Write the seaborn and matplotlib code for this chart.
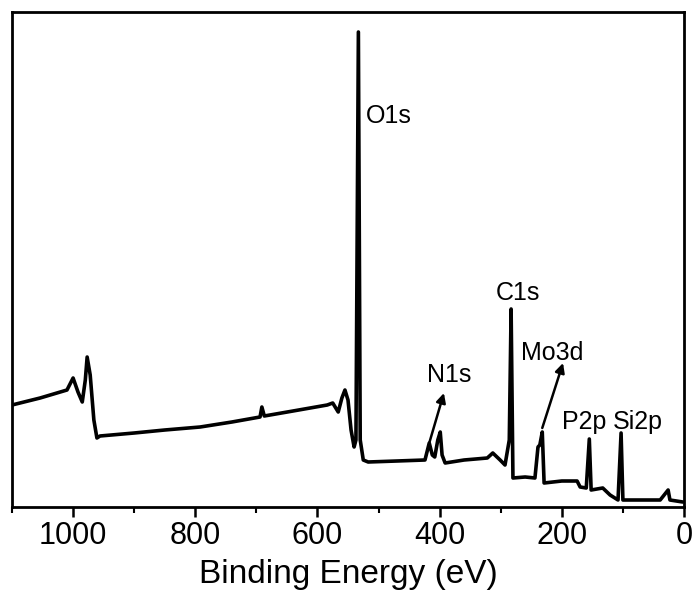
import numpy as np
import pandas as pd
import matplotlib
matplotlib.use('Agg')
import matplotlib.pyplot as plt
import seaborn as sns
from matplotlib.ticker import MultipleLocator

# XPS survey spectrum (intensity in arbitrary units)
energy = [1100, 1054, 1010, 1000, 992, 985, 980, 977, 972, 966, 961, 956,
          900, 850, 792, 740, 694, 691, 687, 640, 584, 575, 566, 560, 555,
          550, 545, 540, 537, 533, 530, 525, 517, 470, 424, 417, 412, 408,
          403, 399, 396, 391, 360, 322, 313, 301, 293, 286, 283, 280, 260,
          244, 239, 236, 232, 229, 200, 175, 170, 160, 155, 152, 133, 121,
          108, 103, 100, 70, 39, 26, 23, 2]
intensity = [102, 109, 117, 129, 115, 105, 127, 150, 132, 87, 69, 71,
             74, 77, 80, 85, 90, 100, 91, 96, 102, 104, 95, 109, 117,
             107, 77, 60, 67, 475, 67, 47, 45, 46, 47, 64, 52, 50,
             67, 75, 52, 44, 47, 49, 54, 47, 42, 67, 198, 29, 30,
             29, 60, 62, 75, 24, 26, 26, 20, 19, 68, 17, 19, 12,
             7, 74, 7, 7, 7, 17, 7, 5]

# peak labels: text, x (eV), y (baseline)
peak_names = ['O1s', 'C1s', 'Mo3d', 'N1s', 'P2p', 'Si2p']
label_x = [484, 272, 216, 385, 164, 75]
label_y = [384, 207, 147, 125, 78, 78]

# arrows: (tail -> head)
arrow_tail = [(417, 64), (232, 79)]
arrow_head = [(393, 114), (198, 144)]

sns.set_style('ticks')
plt.rcParams['font.family'] = ['Liberation Sans', 'DejaVu Sans']
plt.rcParams['text.color'] = 'black'
plt.rcParams['xtick.color'] = 'black'
plt.rcParams['axes.labelcolor'] = 'black'
plt.rcParams['axes.edgecolor'] = 'black'

df = pd.DataFrame({'Binding Energy (eV)': energy, 'Intensity': intensity})

fig = plt.figure(figsize=(6.94, 6.04), dpi=100)
ax = fig.add_axes([12 / 694, 97 / 604, 672 / 694, 495 / 604])
sns.lineplot(data=df, x='Binding Energy (eV)', y='Intensity', color='black',
             linewidth=2.6, estimator=None, ax=ax)

ax.set_xlim(1100, 0)
ax.set_ylim(0, 495)
ax.set_yticks([])
ax.set_ylabel('')
ax.xaxis.set_major_locator(MultipleLocator(200))
ax.xaxis.set_minor_locator(MultipleLocator(100))
ax.tick_params(axis='x', which='major', direction='out', length=7, width=1.8,
               labelsize=22, pad=3)
ax.tick_params(axis='x', which='minor', direction='out', length=4, width=1.5)
ax.set_xlabel('Binding Energy (eV)', fontsize=24, labelpad=6)
for s in ax.spines.values():
    s.set_linewidth(2)
    s.set_visible(True)

for name, x, y in zip(peak_names, label_x, label_y):
    ax.text(x, y, name, fontsize=18, ha='center', va='baseline')

for tail, head in zip(arrow_tail, arrow_head):
    ax.annotate('', xy=head, xytext=tail,
                arrowprops=dict(arrowstyle='-|>', color='black', lw=1.8,
                                mutation_scale=14, shrinkA=0, shrinkB=0))

plt.savefig('out.png', dpi=100)
